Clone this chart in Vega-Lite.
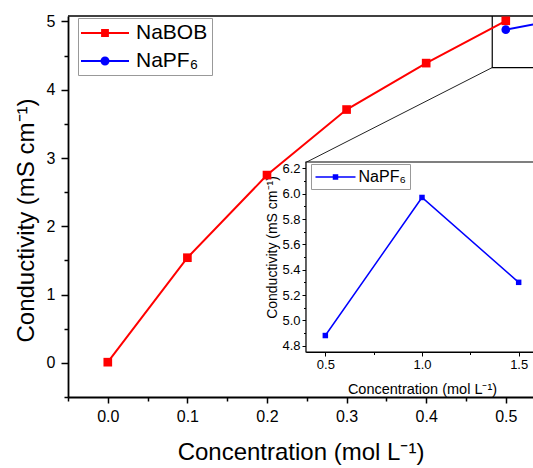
{
  "$schema": "https://vega.github.io/schema/vega-lite/v6.json",
  "width": 465,
  "height": 381,
  "autosize": {"type": "none"},
  "padding": {"left": 68, "top": 16, "right": 0, "bottom": 71},
  "background": "white",
  "config": {
    "font": "Liberation Sans",
    "view": {"stroke": null},
    "axis": {
      "domainColor": "black",
      "tickColor": "black",
      "labelColor": "black",
      "titleColor": "black",
      "titleFontWeight": "normal",
      "titleLimit": 600,
      "grid": false,
      "labelFlush": false,
      "labelOverlap": false,
      "labelBound": false,
      "labelFont": "Liberation Sans",
      "titleFont": "Liberation Sans"
    },
    "legend": {"labelFont": "Liberation Sans", "labelColor": "black"}
  },
  "datasets": {
    "d": [
      {"c": 0.0, "k": 0.01, "s": "NaBOB"},
      {"c": 0.1, "k": 1.54, "s": "NaBOB"},
      {"c": 0.2, "k": 2.75, "s": "NaBOB"},
      {"c": 0.3, "k": 3.71, "s": "NaBOB"},
      {"c": 0.4, "k": 4.39, "s": "NaBOB"},
      {"c": 0.5, "k": 5.01, "s": "NaBOB"},
      {"c": 0.5, "k": 4.88, "s": "NaPF₆"},
      {"c": 1.0, "k": 5.97, "s": "NaPF₆"},
      {"c": 1.5, "k": 5.30, "s": "NaPF₆"}
    ]
  },
  "layer": [
    {
      "data": {"values": [{}]},
      "mark": {"type": "rule", "color": "black", "strokeWidth": 1.5},
      "encoding": {
        "y": {"datum": 5.08, "type": "quantitative", "scale": {"domain": [-0.5, 5.08], "nice": false, "zero": false}, "axis": null}
      }
    },
    {
      "data": {"values": [{}]},
      "mark": {"type": "rect", "fill": "transparent", "stroke": "black", "strokeWidth": 1.2, "clip": true},
      "encoding": {
        "x": {"datum": 0.483, "type": "quantitative", "scale": {"domain": [-0.05, 0.5342], "nice": false, "zero": false},
          "axis": {"orient": "bottom", "title": null, "domain": false, "labels": false, "values": [-0.05, 0.05, 0.15, 0.25, 0.35, 0.45], "tickSize": 4, "tickWidth": 1.5}},
        "x2": {"datum": 0.7},
        "y": {"datum": 4.325, "type": "quantitative", "scale": {"domain": [-0.5, 5.08], "nice": false, "zero": false},
          "axis": {"orient": "left", "title": null, "domain": false, "labels": false, "values": [-0.5, 0.5, 1.5, 2.5, 3.5, 4.5], "tickSize": 4, "tickWidth": 1.5}},
        "y2": {"datum": 6}
      }
    },
    {
      "data": {"values": [{}]},
      "mark": {"type": "rule", "color": "#222222", "strokeWidth": 1},
      "encoding": {
        "x": {"datum": 0.483, "type": "quantitative", "scale": {"domain": [-0.05, 0.5342], "nice": false, "zero": false}, "axis": null},
        "x2": {"datum": 0.2485},
        "y": {"datum": 4.325, "type": "quantitative", "scale": {"domain": [-0.5, 5.08], "nice": false, "zero": false}, "axis": null},
        "y2": {"datum": 2.933}
      }
    },
    {
      "data": {"name": "d"},
      "mark": {"type": "line", "strokeWidth": 2, "clip": true},
      "encoding": {
        "x": {
          "field": "c", "type": "quantitative",
          "scale": {"domain": [-0.05, 0.5342], "nice": false, "zero": false},
          "axis": {
            "orient": "bottom",
            "title": "Concentration (mol L⁻¹)",
            "titleFontSize": 24,
            "titlePadding": 16,
            "values": [0, 0.1, 0.2, 0.3, 0.4, 0.5],
            "format": ".1f",
            "tickSize": 6,
            "labelFontSize": 16,
            "labelPadding": 5,
            "domainWidth": 1.8,
            "tickWidth": 1.5
          }
        },
        "y": {
          "field": "k", "type": "quantitative",
          "scale": {"domain": [-0.5, 5.08], "nice": false, "zero": false},
          "axis": {
            "orient": "left",
            "title": "Conductivity (mS cm⁻¹)",
            "titleFontSize": 24,
            "titlePadding": 8,
            "titleY": 204,
            "titleLimit": 600,
            "values": [0, 1, 2, 3, 4, 5],
            "format": "d",
            "tickSize": 7,
            "labelFontSize": 16,
            "labelPadding": 6,
            "domainWidth": 1.8,
            "tickWidth": 1.5
          }
        },
        "color": {"field": "s", "type": "nominal", "scale": {"domain": ["NaBOB", "NaPF₆"], "range": ["#ff0000", "#0000ff"]}, "legend": null}
      }
    },
    {
      "data": {"name": "d"},
      "mark": {"type": "point", "filled": true, "opacity": 1, "size": 75, "clip": true},
      "encoding": {
        "x": {"field": "c", "type": "quantitative", "scale": {"domain": [-0.05, 0.5342], "nice": false, "zero": false}, "axis": null},
        "y": {"field": "k", "type": "quantitative", "scale": {"domain": [-0.5, 5.08], "nice": false, "zero": false}, "axis": null},
        "shape": {"field": "s", "type": "nominal", "scale": {"domain": ["NaBOB", "NaPF₆"], "range": ["square", "circle"]}, "legend": null},
        "color": {"field": "s", "type": "nominal", "scale": {"domain": ["NaBOB", "NaPF₆"], "range": ["#ff0000", "#0000ff"]}, "legend": null}
      }
    },
    {
      "data": {"name": "d"},
      "transform": [{"filter": "false"}],
      "mark": {"type": "point", "filled": true, "opacity": 1, "strokeWidth": 2},
      "encoding": {
        "shape": {"field": "s", "type": "nominal",
          "scale": {"domain": ["NaBOB", "NaPF₆"], "range": ["M-2.4,0H2.4M-0.29,-0.29H0.29V0.29H-0.29Z", "M-2.4,0H2.4M0.35,0A0.35,0.35 0 1 1 -0.35,0A0.35,0.35 0 1 1 0.35,0Z"]},
          "legend": {"orient": "none", "legendX": 10, "legendY": 2, "title": null, "labelFontSize": 21, "symbolSize": 400, "symbolStrokeWidth": 2, "symbolOffset": 12, "strokeColor": "#999999", "fillColor": "white", "padding": 4, "rowPadding": 7, "labelOffset": 20}},
        "fill": {"field": "s", "type": "nominal",
          "scale": {"domain": ["NaBOB", "NaPF₆"], "range": ["#ff0000", "#0000ff"]},
          "legend": {"orient": "none", "legendX": 10, "legendY": 2, "title": null, "labelFontSize": 21, "symbolSize": 400, "symbolStrokeWidth": 2, "symbolOffset": 12, "strokeColor": "#999999", "fillColor": "white", "padding": 4, "rowPadding": 7, "labelOffset": 20}},
        "stroke": {"field": "s", "type": "nominal",
          "scale": {"domain": ["NaBOB", "NaPF₆"], "range": ["#ff0000", "#0000ff"]},
          "legend": {"orient": "none", "legendX": 10, "legendY": 2, "title": null, "labelFontSize": 21, "symbolSize": 400, "symbolStrokeWidth": 2, "symbolOffset": 12, "strokeColor": "#999999", "fillColor": "white", "padding": 4, "rowPadding": 7, "labelOffset": 20}}
      }
    },
    {
      "data": {"values": [{}]},
      "mark": {"type": "rect", "fill": "white", "stroke": "black", "strokeWidth": 1.2},
      "encoding": {
        "x": {"datum": 0.4, "type": "quantitative", "scale": {"domain": [0.4, 1.6], "range": [238, 470], "nice": false, "zero": false},
          "axis": {"orient": "bottom", "offset": -45, "title": null, "domain": false, "labels": false, "values": [0.75, 1.25], "tickSize": 2.5, "tickWidth": 1}},
        "x2": {"datum": 1.6},
        "y": {"datum": 4.75, "type": "quantitative", "scale": {"domain": [4.75, 6.25], "range": [336, 146], "nice": false, "zero": false},
          "axis": {"orient": "left", "offset": -238, "title": null, "domain": false, "labels": false, "values": [4.9, 5.1, 5.3, 5.5, 5.7, 5.9, 6.1], "tickSize": 2.5, "tickWidth": 1}},
        "y2": {"datum": 6.25}
      }
    },
    {
      "data": {"name": "d"},
      "transform": [{"filter": "datum.s === 'NaPF₆'"}],
      "mark": {"type": "line", "strokeWidth": 1.5},
      "encoding": {
        "x": {
          "field": "c", "type": "quantitative",
          "scale": {"domain": [0.4, 1.6], "range": [238, 470], "nice": false, "zero": false},
          "axis": {
            "orient": "bottom",
            "offset": -45,
            "title": "Concentration (mol L⁻¹)",
            "titleFontSize": 14.5,
            "titlePadding": 11,
            "titleLimit": 600,
            "values": [0.5, 1, 1.5],
            "format": ".1f",
            "tickSize": 4,
            "labelFontSize": 13,
            "labelPadding": 2,
            "domainWidth": 1.2,
            "tickWidth": 1
          }
        },
        "y": {
          "field": "k", "type": "quantitative",
          "scale": {"domain": [4.75, 6.25], "range": [336, 146], "nice": false, "zero": false},
          "axis": {
            "orient": "left",
            "offset": -238,
            "title": "Conductivity (mS cm⁻¹)",
            "titleFontSize": 14,
            "titlePadding": 2,
            "titleY": 231,
            "titleLimit": 600,
            "values": [4.8, 5.0, 5.2, 5.4, 5.6, 5.8, 6.0, 6.2],
            "format": ".1f",
            "tickSize": 4,
            "labelFontSize": 13,
            "labelPadding": 2,
            "domainWidth": 1.2,
            "tickWidth": 1
          }
        },
        "color": {"field": "s", "type": "nominal", "scale": {"domain": ["NaPF₆"], "range": ["#0000ff"]}, "legend": null}
      }
    },
    {
      "data": {"name": "d"},
      "transform": [{"filter": "datum.s === 'NaPF₆'"}],
      "mark": {"type": "square", "filled": true, "opacity": 1, "size": 30},
      "encoding": {
        "x": {"field": "c", "type": "quantitative", "scale": {"domain": [0.4, 1.6], "range": [238, 470], "nice": false, "zero": false}, "axis": null},
        "y": {"field": "k", "type": "quantitative", "scale": {"domain": [4.75, 6.25], "range": [336, 146], "nice": false, "zero": false}, "axis": null},
        "color": {"field": "s", "type": "nominal", "scale": {"domain": ["NaPF₆"], "range": ["#0000ff"]}, "legend": null}
      }
    },
    {
      "data": {"name": "d"},
      "transform": [{"filter": "false"}],
      "mark": {"type": "point", "filled": true, "opacity": 1, "strokeWidth": 1.5},
      "encoding": {
        "shape": {"field": "s", "type": "nominal",
          "scale": {"domain": ["NaPF₆"], "range": ["M-2.5,0H2.5M-0.25,-0.25H0.25V0.25H-0.25Z"]},
          "legend": {"orient": "none", "legendX": 243, "legendY": 148, "title": null, "labelFontSize": 16, "symbolSize": 256, "symbolStrokeWidth": 1.5, "symbolOffset": 11.5, "strokeColor": "#999999", "fillColor": "white", "padding": 4, "labelOffset": 14}},
        "fill": {"field": "s", "type": "nominal",
          "scale": {"domain": ["NaPF₆"], "range": ["#0000ff"]},
          "legend": {"orient": "none", "legendX": 243, "legendY": 148, "title": null, "labelFontSize": 16, "symbolSize": 256, "symbolStrokeWidth": 1.5, "symbolOffset": 11.5, "strokeColor": "#999999", "fillColor": "white", "padding": 4, "labelOffset": 14}},
        "stroke": {"field": "s", "type": "nominal",
          "scale": {"domain": ["NaPF₆"], "range": ["#0000ff"]},
          "legend": {"orient": "none", "legendX": 243, "legendY": 148, "title": null, "labelFontSize": 16, "symbolSize": 256, "symbolStrokeWidth": 1.5, "symbolOffset": 11.5, "strokeColor": "#999999", "fillColor": "white", "padding": 4, "labelOffset": 14}}
      }
    }
  ],
  "resolve": {
    "scale": {"x": "independent", "y": "independent", "color": "independent", "shape": "independent", "fill": "independent", "stroke": "independent"},
    "axis": {"x": "independent", "y": "independent"},
    "legend": {"color": "independent", "shape": "independent", "fill": "independent", "stroke": "independent"}
  }
}
